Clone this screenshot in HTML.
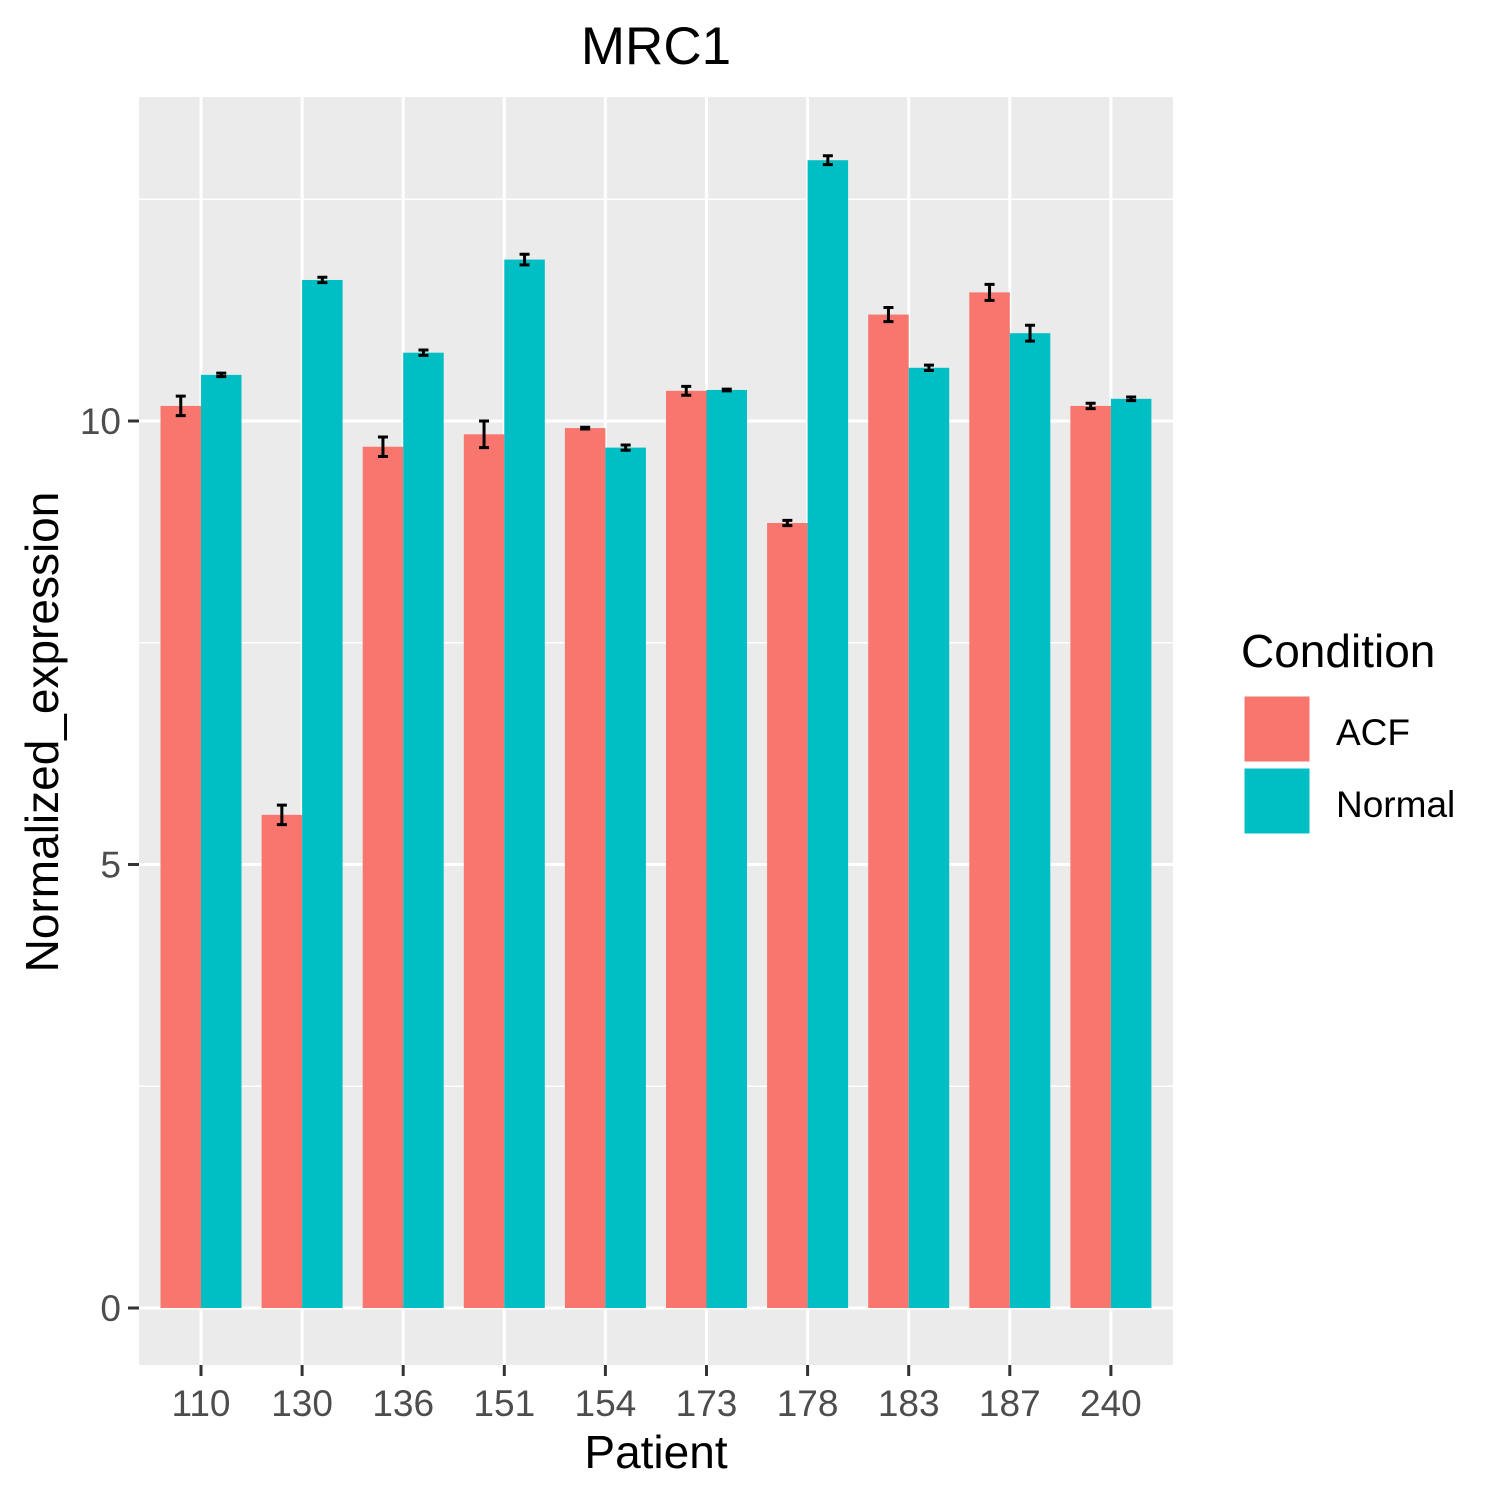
<!DOCTYPE html>
<html><head><meta charset="utf-8"><style>
body{margin:0;background:#fff;}
svg text{font-family:"Liberation Sans",Arial,sans-serif;}
</style></head><body>
<svg id="chart" width="1500" height="1500" xmlns="http://www.w3.org/2000/svg">
<rect x="0" y="0" width="1500" height="1500" fill="#fff"/>
<rect x="139" y="97" width="1034" height="1268" fill="#EBEBEB"/>
<g id="grid"></g>
<g id="bars"></g>
<g id="axes"></g>
<text x="656" y="64" font-size="53" text-anchor="middle" fill="#000">MRC1</text>
<text x="656" y="1468" font-size="46" text-anchor="middle" fill="#000">Patient</text>
<text transform="translate(58,732) rotate(-90)" font-size="46" text-anchor="middle" fill="#000">Normalized_expression</text>
<g>
<text x="1241" y="667" font-size="46" fill="#000">Condition</text>
<rect x="1243" y="695" width="68" height="68" fill="#F8766D" stroke="#fff" stroke-width="3"/>
<text x="1336" y="745" font-size="37" fill="#000">ACF</text>
<rect x="1243" y="767" width="68" height="68" fill="#00BFC4" stroke="#fff" stroke-width="3"/>
<text x="1336" y="817" font-size="37" fill="#000">Normal</text>
</g>
</svg>
<script>
const categories=["110","130","136","151","154","173","178","183","187","240"];
const acfValues=[10.17,5.56,9.71,9.85,9.92,10.34,8.85,11.20,11.45,10.17];
const normalValues=[10.52,11.59,10.77,11.82,9.70,10.35,12.94,10.60,10.99,10.25];
const acfErr=[0.11,0.11,0.11,0.15,0.01,0.05,0.03,0.08,0.09,0.03];
const normalErr=[0.02,0.03,0.03,0.06,0.03,0.01,0.05,0.03,0.09,0.02];
const yTicks=[0,5,10];
const yMinor=[2.5,7.5,12.5];

const NS="http://www.w3.org/2000/svg";
const y=v=>1308-v*88.7;
const x=i=>201+i*101.1;
function mk(tag,attrs,parent){const e=document.createElementNS(NS,tag);for(const k in attrs)e.setAttribute(k,attrs[k]);document.getElementById(parent).appendChild(e);return e;}
yMinor.forEach(v=>{const l=mk('line',{x1:139,x2:1173,y1:y(v),y2:y(v),stroke:'#fff','stroke-width':1.5},'grid');

});
yTicks.forEach(v=>{const l=mk('line',{x1:139,x2:1173,y1:y(v),y2:y(v),stroke:'#fff','stroke-width':3},'grid');


const t=mk('line',{x1:128,x2:139,y1:y(v),y2:y(v),stroke:'#333','stroke-width':3},'axes');


const tx=mk('text',{x:121,y:y(v)+13,'font-size':37,'text-anchor':'end',fill:'#4D4D4D'},'axes');tx.textContent=v;

});
categories.forEach((c,i)=>{const l=mk('line',{x1:x(i),x2:x(i),y1:97,y2:1365,stroke:'#fff','stroke-width':3},'grid');


const t=mk('line',{x1:x(i),x2:x(i),y1:1365,y2:1376,stroke:'#333','stroke-width':3},'axes');


const tx=mk('text',{x:x(i),y:1416,'font-size':37,'text-anchor':'middle',fill:'#4D4D4D'},'axes');tx.textContent=c;


[[acfValues,acfErr,'#F8766D',-40.5,'acf'],[normalValues,normalErr,'#00BFC4',0,'normal']].forEach(([vals,errs,col,off,nm])=>{
const bx=x(i)+off;
const b=mk('rect',{x:bx,y:y(vals[i]),width:40.5,height:y(0)-y(vals[i]),fill:col},'bars');


const cx=bx+20.25,hi=y(vals[i]+errs[i]),lo=y(vals[i]-errs[i]);
const e=mk('path',{d:`M${cx-5},${hi}H${cx+5}M${cx},${hi}V${lo}M${cx-5},${lo}H${cx+5}`,stroke:'#000','stroke-width':3,fill:'none'},'bars');

});});
</script>
</body></html>
